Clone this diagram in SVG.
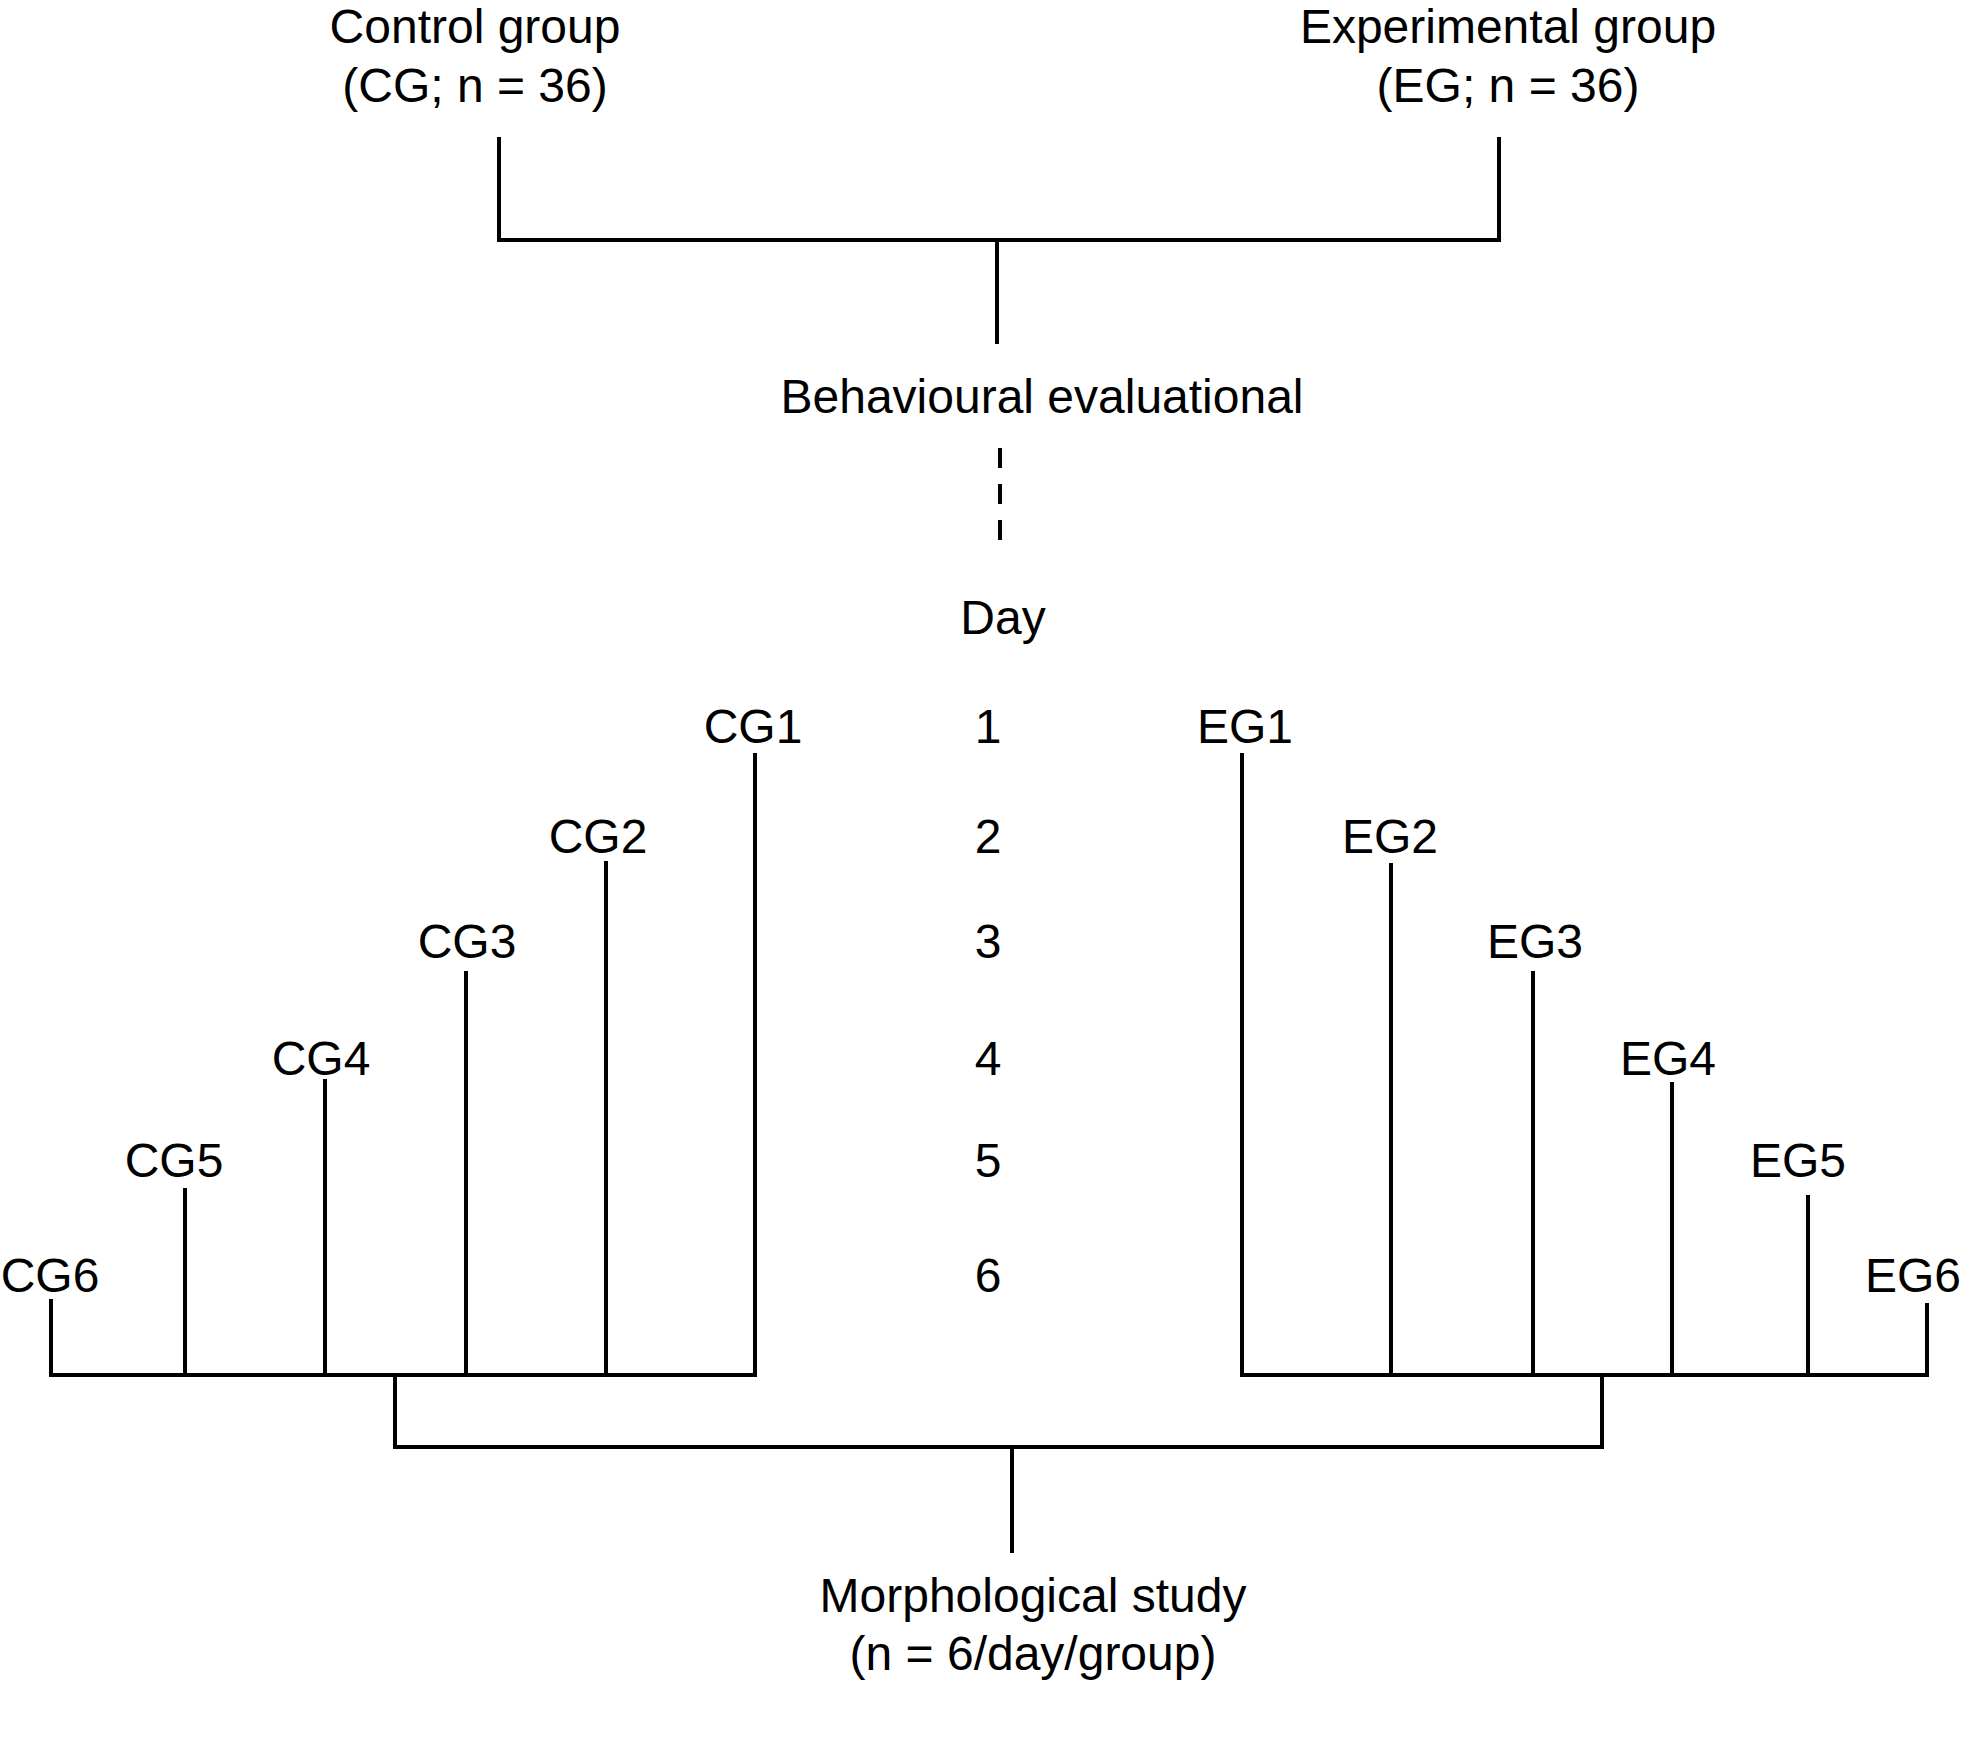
<svg xmlns="http://www.w3.org/2000/svg" width="1962" height="1740" viewBox="0 0 1962 1740">
<style>
text{font-family:"Liberation Sans",Arial,sans-serif;font-size:48px;fill:#000;text-anchor:middle}
.ln{stroke:#000;stroke-width:4;fill:none;stroke-linecap:square}
.dash{stroke:#000;stroke-width:4;fill:none;stroke-dasharray:20 16}
</style>
<rect width="1962" height="1740" fill="#fff"/>
<g id="control-group"><text x="475" y="43">Control group</text><text x="475" y="102">(CG; n = 36)</text></g>
<g id="experimental-group"><text x="1508" y="43">Experimental group</text><text x="1508" y="102">(EG; n = 36)</text></g>
<g id="behavioural"><text x="1042" y="413">Behavioural evaluational</text></g>
<g id="day"><text x="1003" y="634">Day</text></g>
<g id="day-numbers">
<text x="988" y="743">1</text><text x="988" y="853">2</text><text x="988" y="958">3</text>
<text x="988" y="1075">4</text><text x="988" y="1177">5</text><text x="988" y="1292">6</text>
</g>
<g id="cg1"><text x="753" y="743">CG1</text></g>
<g id="cg2"><text x="598" y="853">CG2</text></g>
<g id="cg3"><text x="467" y="958">CG3</text></g>
<g id="cg4"><text x="321" y="1075">CG4</text></g>
<g id="cg5"><text x="174" y="1177">CG5</text></g>
<g id="cg6"><text x="50" y="1292">CG6</text></g>
<g id="eg1"><text x="1245" y="743">EG1</text></g>
<g id="eg2"><text x="1390" y="853">EG2</text></g>
<g id="eg3"><text x="1535" y="958">EG3</text></g>
<g id="eg4"><text x="1668" y="1075">EG4</text></g>
<g id="eg5"><text x="1798" y="1177">EG5</text></g>
<g id="eg6"><text x="1913" y="1292">EG6</text></g>
<g id="morphological"><text x="1033" y="1612">Morphological study</text><text x="1033" y="1670">(n = 6/day/group)</text></g>
<g id="connectors">
<path class="ln" d="M499 139V240H1499V139M997 240V342"/>
<path class="dash" d="M1000 448V541"/>
<path class="ln" d="M51 1301V1375H755V755M185 1190V1375M325 1081V1375M466 973V1375M606 863V1375"/>
<path class="ln" d="M1242 755V1375H1927V1305M1391 865V1375M1533 973V1375M1672 1084V1375M1808 1197V1375"/>
<path class="ln" d="M395 1375V1447H1602V1375M1012 1447V1551"/>
</g>
</svg>
